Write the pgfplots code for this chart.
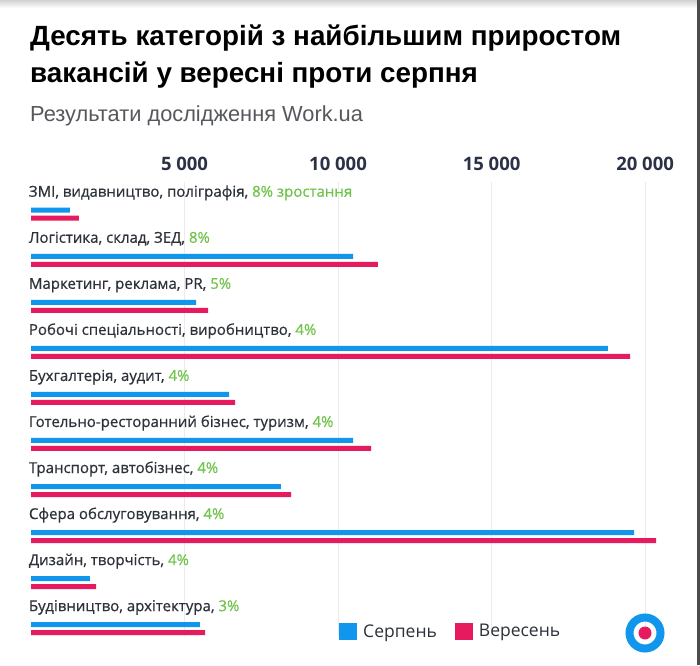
\documentclass[border=0pt]{standalone}
\usepackage{pgfplots}
\pgfplotsset{compat=1.18}
\usepackage{fontspec}
\setmainfont{Open Sans}
\newfontfamily\titlefont{Liberation Sans}
\newfontfamily\labelfont[FakeBold=0.6]{Open Sans}
\definecolor{barblue}{RGB}{16,150,236}
\definecolor{barpink}{RGB}{230,27,95}
\definecolor{pctgreen}{RGB}{112,196,74}
\definecolor{ticknavy}{RGB}{44,50,70}
\definecolor{labelgray}{RGB}{45,50,58}
\definecolor{subgray}{RGB}{85,88,92}
\begin{document}
\begin{tikzpicture}[x=1pt,y=1pt]
\useasboundingbox (0,0) rectangle (700,665);
\fill[white] (0,0) rectangle (700,665);
\shade[top color=gray!35, bottom color=white] (0,657) rectangle (700,665);
\fill[black!70] (697,0) rectangle (700,665);
\node[anchor=base west, inner sep=0pt, font=\titlefont\bfseries\fontsize{27.8}{30}\selectfont, text=black] at (30,619) {Десять категорій з найбільшим приростом};
\node[anchor=base west, inner sep=0pt, font=\titlefont\bfseries\fontsize{27.8}{30}\selectfont, text=black] at (30,582) {вакансій у вересні проти серпня};
\node[anchor=base west, inner sep=0pt, font=\titlefont\fontsize{21.8}{24}\selectfont, text=subgray] at (30,543) {Результати дослідження Work.ua};
\begin{axis}[
  at={(31pt,29pt)}, anchor=south west,
  scale only axis, width=654pt, height=454pt,
  xmin=0, xmax=21300, ymin=-0.70, ymax=9.16, y dir=reverse,
  scaled x ticks=false,
  axis line style={draw=none}, tick style={draw=none},
  xtick={5000,10000,15000,20000},
  xticklabels={5 000,10 000,15 000,20 000},
  xticklabel pos=right,
  xticklabel style={anchor=base, inner sep=0pt, yshift=12pt, font=\bfseries\fontsize{18.5}{20}\selectfont, text=ticknavy},
  xmajorgrids, grid style={color=black!8, line width=0.7pt},
  ytick={0,...,9},
  yticklabels={
    {ЗМІ, видавництво, поліграфія, \textcolor{pctgreen}{8\% зростання}},
    {Логістика, склад, ЗЕД, \textcolor{pctgreen}{8\%}},
    {Маркетинг, реклама, PR, \textcolor{pctgreen}{5\%}},
    {Робочі спеціальності, виробництво, \textcolor{pctgreen}{4\%}},
    {Бухгалтерія, аудит, \textcolor{pctgreen}{4\%}},
    {Готельно-ресторанний бізнес, туризм, \textcolor{pctgreen}{4\%}},
    {Транспорт, автобізнес, \textcolor{pctgreen}{4\%}},
    {Сфера обслуговування, \textcolor{pctgreen}{4\%}},
    {Дизайн, творчість, \textcolor{pctgreen}{4\%}},
    {Будівництво, архітектура, \textcolor{pctgreen}{3\%}}},
  yticklabel style={anchor=base west, inner sep=0pt, xshift=2pt, yshift=17.5pt, font=\labelfont\fontsize{15}{17}\selectfont, text=labelgray},
  xbar, bar width=5pt,
  legend columns=2,
  legend style={draw=none, fill=none, at={(0.471,0.01)}, anchor=west, inner sep=0pt,
    font=\fontsize{17.5}{19}\selectfont, text=labelgray,
    /tikz/every even column/.style={column sep=16pt}},
]
\addplot[fill=barblue, draw=none, bar shift=4pt,
  legend image code/.code={\fill[barblue] (0pt,-8.5pt) rectangle (18pt,8.5pt); \path (22pt,0pt);}]
  coordinates {(1270,0) (10490,1) (5375,2) (18790,3) (6450,4) (10490,5) (8140,6) (19640,7) (1920,8) (5500,9)};
\addlegendentry{Серпень}
\addplot[fill=barpink, draw=none, bar shift=-4pt,
  legend image code/.code={\fill[barpink] (0pt,-8.5pt) rectangle (18pt,8.5pt); \path (22pt,0pt);}]
  coordinates {(1560,0) (11300,1) (5765,2) (19510,3) (6645,4) (11075,5) (8470,6) (20360,7) (2120,8) (5670,9)};
\addlegendentry{Вересень}
\end{axis}
\draw[barblue, line width=8pt] (645,32) circle (15.5);
\fill[barpink] (645,32) circle (6.5);
\end{tikzpicture}
\end{document}
